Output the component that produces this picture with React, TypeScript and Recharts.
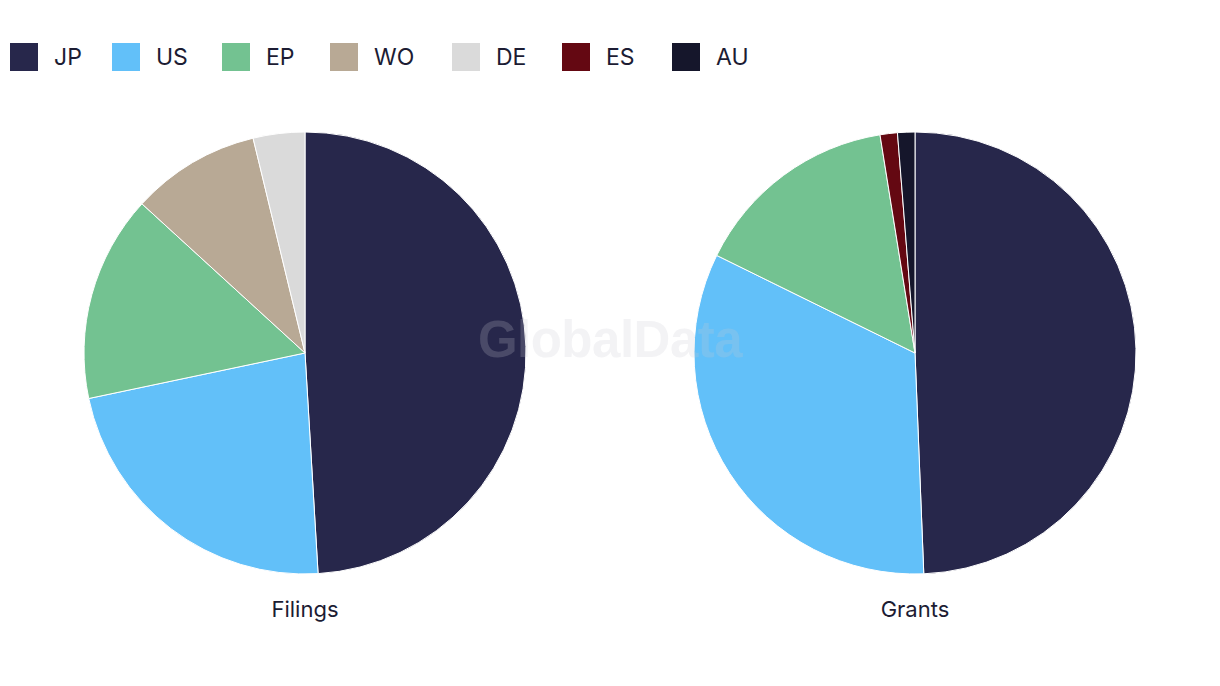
import { Legend, Pie, PieChart, Cell } from "recharts";

const countries = ["JP", "US", "EP", "WO", "DE", "ES", "AU"];
const colors = ["#27274b", "#62c0f9", "#73c291", "#b8a995", "#dadada", "#640812", "#15162b"];

const filingCountries = ["JP", "US", "EP", "WO", "DE"];
const filingValues = [26, 12, 8, 5, 2];

const grantCountries = ["JP", "US", "EP", "ES", "AU"];
const grantValues = [39, 26, 12, 1, 1];

const filings = filingCountries.map((c, i) => ({ name: c, value: filingValues[i] }));
const grants = grantCountries.map((c, i) => ({ name: c, value: grantValues[i] }));

const colorOf = (c: string) => colors[countries.indexOf(c)];

const font = "Inter, 'Noto Sans', sans-serif";

function LegendRow() {
  const lefts = [10, 112, 222, 330, 452, 562, 672];
  return (
    <div style={{ position: "absolute", left: 0, top: 0, width: 1220, height: 100 }}>
      {countries.map((c, i) => (
        <div key={c} style={{ position: "absolute", left: lefts[i], top: 43, display: "flex", alignItems: "center" }}>
          <div style={{ width: 28, height: 28, background: colors[i] }} />
          <span style={{ marginLeft: 16, fontSize: 23, color: "#1c1c33", fontFamily: font, lineHeight: "28px" }}>{c}</span>
        </div>
      ))}
    </div>
  );
}

export default function App() {
  return (
    <div style={{ position: "fixed", left: 0, top: 0, width: 1220, height: 686, background: "#fff" }}>
      <PieChart width={1220} height={686} margin={{ top: 0, right: 0, bottom: 0, left: 0 }}>
        <Legend content={() => null} />
        <Pie
          data={filings}
          dataKey="value"
          nameKey="name"
          cx={305}
          cy={353}
          outerRadius={221}
          startAngle={90}
          endAngle={-270}
          stroke="#fff"
          strokeWidth={1}
          isAnimationActive={false}
        >
          {filings.map((d) => (
            <Cell key={d.name} fill={colorOf(d.name)} />
          ))}
        </Pie>
        <Pie
          data={grants}
          dataKey="value"
          nameKey="name"
          cx={915}
          cy={353}
          outerRadius={221}
          startAngle={90}
          endAngle={-270}
          stroke="#fff"
          strokeWidth={1}
          isAnimationActive={false}
        >
          {grants.map((d) => (
            <Cell key={d.name} fill={colorOf(d.name)} />
          ))}
        </Pie>
      </PieChart>
      <LegendRow />
      <div style={{ position: "absolute", left: 205, width: 200, top: 596, textAlign: "center", fontSize: 22, color: "#1c1c33", fontFamily: font }}>
        Filings
      </div>
      <div style={{ position: "absolute", left: 815, width: 200, top: 596, textAlign: "center", fontSize: 22, color: "#1c1c33", fontFamily: font }}>
        Grants
      </div>
      <div
        style={{
          position: "absolute",
          left: 410,
          width: 400,
          top: 310,
          textAlign: "center",
          fontSize: 51,
          fontWeight: 700,
          color: "rgba(200,200,210,0.22)",
          fontFamily: "'Liberation Sans', Arial, sans-serif",
          pointerEvents: "none",
          letterSpacing: -0.5,
        }}
      >
        GlobalData
      </div>
    </div>
  );
}
